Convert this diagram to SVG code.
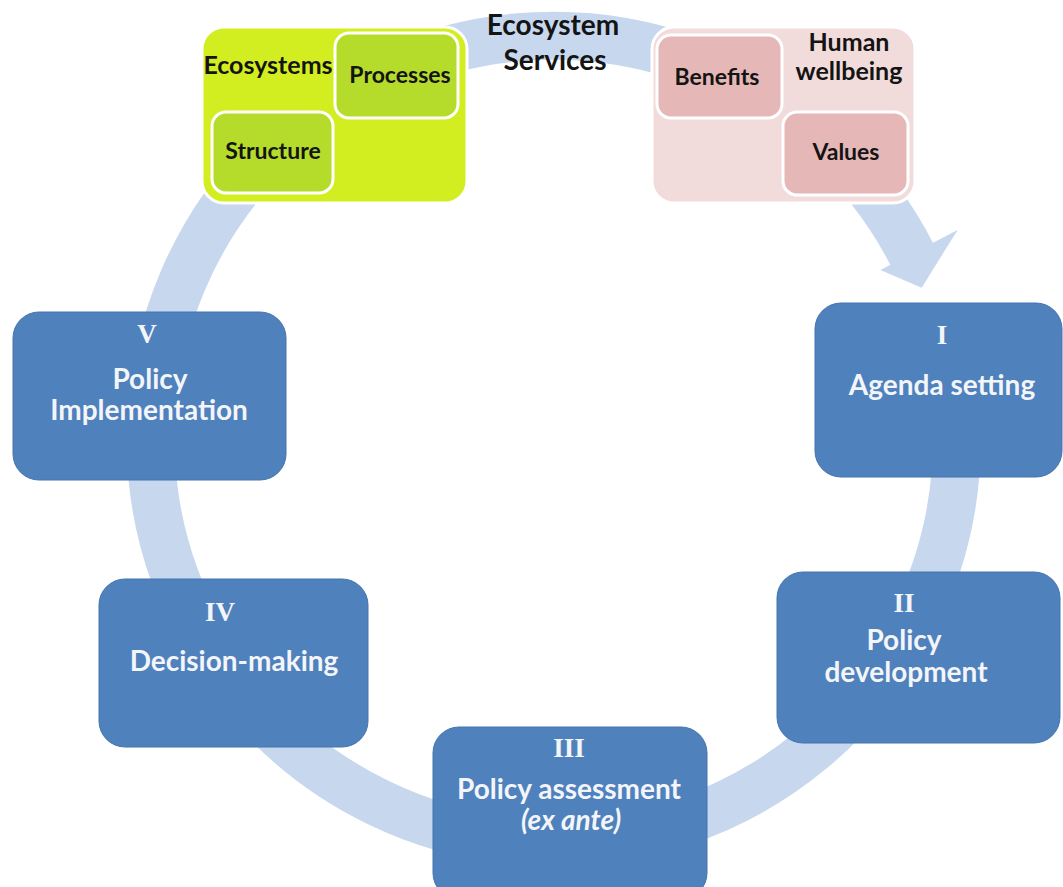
<svg xmlns="http://www.w3.org/2000/svg" width="1063" height="887" viewBox="0 0 1063 887">
<style>
.ring{fill:none;stroke:#c6d7ee;stroke-width:48}
.head{fill:#c6d7ee}
.blue{fill:#4f81bd;stroke:#4574ad;stroke-width:1}
.t{font-family:Lato,"Open Sans","Liberation Sans",sans-serif;font-weight:bold;text-anchor:middle}
.w{fill:#f3f5f8;font-size:28px}
.rn{font-family:"Liberation Serif","DejaVu Serif",serif;font-weight:bold;fill:#f3f5f8;font-size:27px;text-anchor:middle}
.k{fill:#141414}
.s{font-size:23px}
.m{font-size:25px}
.gOut{fill:#d3ee20;stroke:#ffffff;stroke-width:3}
.gIn{fill:#b5dc2b;stroke:#ffffff;stroke-width:3}
.pOut{fill:#f2dcdb;stroke:#ffffff;stroke-width:3}
.pIn{fill:#e5b8b7;stroke:#ffffff;stroke-width:3}
</style>
<rect width="1063" height="887" fill="#ffffff"/>
<g id="connectors">
<path class="ring" d="M939.4 322.2 A403 403 0 0 1 175.3 577.8 A403 403 0 0 1 913.3 257.1"/>
<polygon class="head" points="880.4,270.1 957.6,229.9 921.7,287.7"/>
<text class="t k" x="553" y="35" font-size="28">Ecosystem</text>
<text class="t k" x="555" y="70" font-size="28">Services</text>
</g>
<g id="ecosystems">
<rect class="gOut" x="202" y="27" width="265" height="176" rx="22"/>
<rect class="gIn" x="335" y="33" width="123" height="85" rx="14"/>
<rect class="gIn" x="212" y="112" width="121" height="81" rx="14"/>
<text class="t k m" x="268" y="74">Ecosystems</text>
<text class="t k s" x="400" y="83">Processes</text>
<text class="t k s" x="273" y="159">Structure</text>
</g>
<g id="wellbeing">
<rect class="pOut" x="652" y="27" width="263" height="176" rx="22"/>
<rect class="pIn" x="657" y="35" width="125" height="83" rx="14"/>
<rect class="pIn" x="783" y="112" width="125" height="83" rx="14"/>
<text class="t k m" x="849" y="51">Human</text>
<text class="t k m" x="849" y="80">wellbeing</text>
<text class="t k s" x="717" y="85">Benefits</text>
<text class="t k s" x="846" y="160">Values</text>
</g>
<g id="box-I">
<rect class="blue" x="815" y="303" width="247" height="174" rx="26"/>
<text class="rn" x="942" y="344">I</text>
<text class="t w" x="942" y="395">Agenda setting</text>
</g>
<g id="box-II">
<rect class="blue" x="777" y="572" width="283" height="171" rx="26"/>
<text class="rn" x="904" y="612">II</text>
<text class="t w" x="904" y="650">Policy</text>
<text class="t w" x="906" y="682">development</text>
</g>
<g id="box-III">
<rect class="blue" x="433" y="727" width="274" height="172" rx="26"/>
<text class="rn" x="569" y="757">III</text>
<text class="t w" x="569" y="799">Policy assessment</text>
<text class="t w" x="571" y="830" font-style="italic">(ex ante)</text>
</g>
<g id="box-IV">
<rect class="blue" x="99" y="579" width="269" height="168" rx="26"/>
<text class="rn" x="220" y="621">IV</text>
<text class="t w" x="234" y="671">Decision-making</text>
</g>
<g id="box-V">
<rect class="blue" x="13" y="312" width="273" height="168" rx="26"/>
<text class="rn" x="147" y="343">V</text>
<text class="t w" x="150" y="389">Policy</text>
<text class="t w" x="149" y="420">Implementation</text>
</g>
</svg>
